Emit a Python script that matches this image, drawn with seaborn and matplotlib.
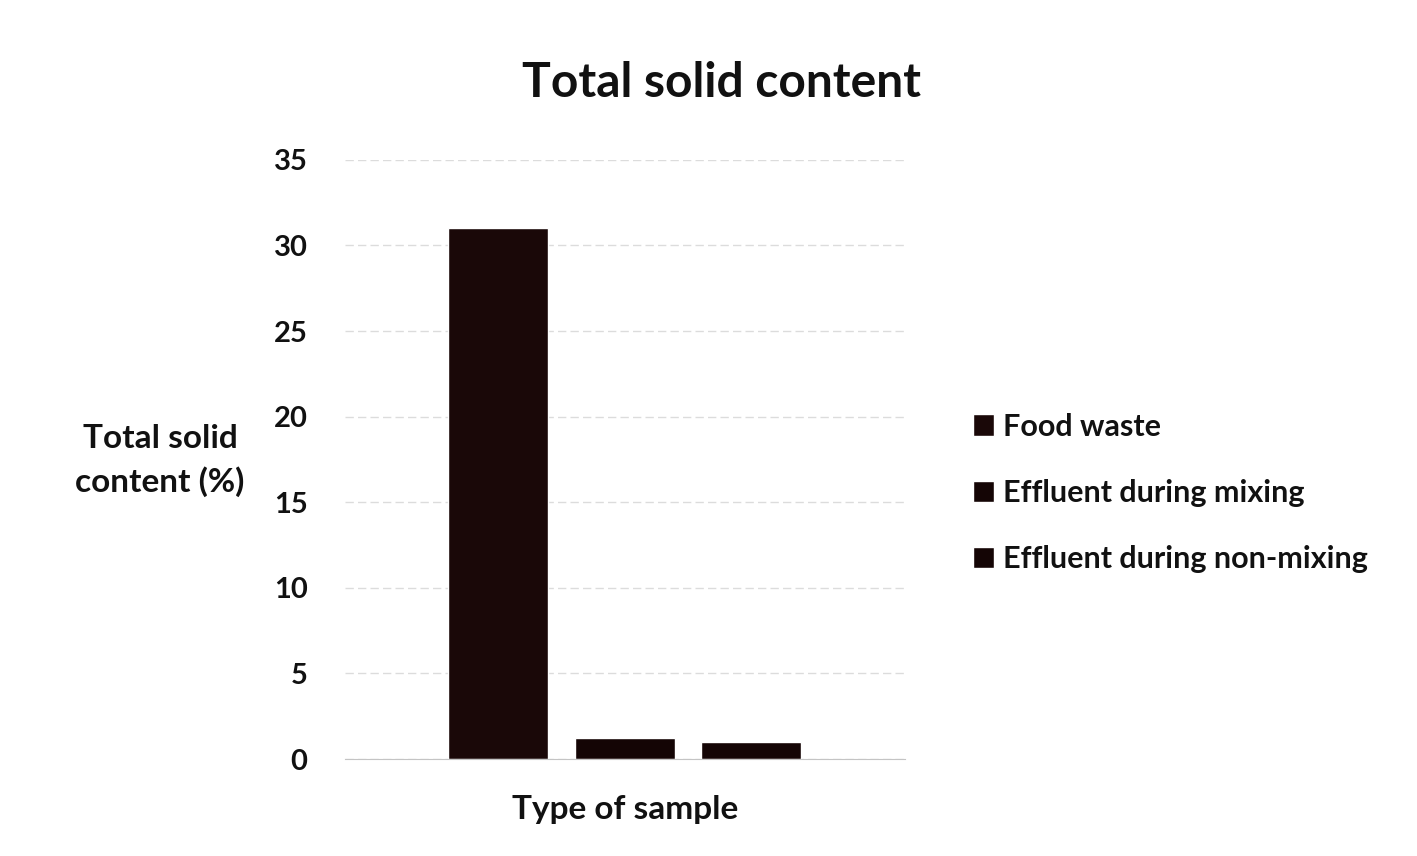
import matplotlib
matplotlib.use("Agg")
import matplotlib.pyplot as plt
import seaborn as sns
import pandas as pd

# values
samples = ["Food waste", "Effluent during mixing", "Effluent during non-mixing"]
total_solid = [31.0, 1.25, 1.0]
group = ["Type of sample"] * len(samples)
y_ticks = [0, 5, 10, 15, 20, 25, 30, 35]

df = pd.DataFrame({"group": group, "sample": samples, "ts": total_solid})

sns.set_style("white")
plt.rcParams["font.family"] = ["Lato", "DejaVu Sans"]

fig = plt.figure(figsize=(14.17, 8.56), dpi=100)
ax = fig.add_axes([0.2435, 0.1133, 0.395, 0.70])

bar_colors = ["#1a0808", "#140505", "#140505"]
sns.barplot(data=df, x="group", y="ts", hue="sample", hue_order=samples,
            palette=bar_colors, width=0.678, gap=0.21, saturation=1,
            ax=ax, legend=True)

ax.set_ylim(0, 35)
ax.set_xlim(-0.5, 0.5)
ax.set_yticks(y_ticks)
ax.set_yticklabels([str(t) for t in y_ticks], fontsize=21, fontweight="bold",
                   color="#111111")
ax.tick_params(axis="y", length=0, pad=27)
ax.set_xticks([])
ax.yaxis.grid(True, color="#dcdcdc", linewidth=1, linestyle=(0, (6, 3)))
ax.set_axisbelow(True)
for side in ["top", "right", "left"]:
    ax.spines[side].set_visible(False)
ax.spines["bottom"].set_color("#c4c4c4")

ax.set_xlabel("Type of sample", fontsize=24, fontweight="bold",
              color="#111111", labelpad=26)
ax.set_ylabel("")
fig.text(0.113, 0.462, "Total solid\ncontent (%)", fontsize=24,
         fontweight="bold", color="#111111",
         ha="center", va="center", linespacing=1.55)
fig.text(0.509, 0.903, "Total solid content", fontsize=34.5,
         fontweight="bold", color="#111111", ha="center", va="center")

handles, labels = ax.get_legend_handles_labels()
ax.legend(handles, labels, loc="center left", bbox_to_anchor=(0.667, 0.424),
          bbox_transform=fig.transFigure, frameon=False,
          prop={"size": 22, "weight": "bold"},
          handlelength=0.7, handleheight=0.7, handletextpad=0.3,
          labelspacing=1.25, labelcolor="#111111")

fig.savefig("out.png", dpi=100, facecolor="white")
